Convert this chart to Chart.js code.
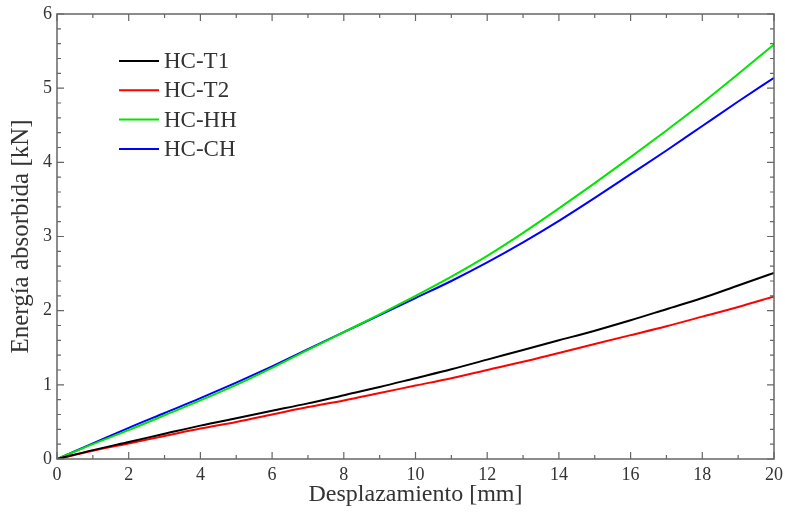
<!DOCTYPE html>
<html lang="es">
  <head>
    <meta charset="UTF-8" />
    <title>Energía absorbida</title>
    <script src="https://cdn.jsdelivr.net/npm/chart.js@4.4.1/dist/chart.umd.min.js"></script>
    <style>
      html, body {
        margin: 0;
        padding: 0;
        background: white;
      }
      .chart-container {
        width: 785px;
        height: 512px;
      }
    </style>
  </head>

  <body>
    <div class="chart-container">
      <canvas id="myChart" width="785" height="512"></canvas>
    </div>

    <script>
      // desplazamiento [mm]
      const desplazamiento = [0, 1, 2, 3, 4, 5, 6, 7, 8, 9, 10, 11, 12, 13, 14, 15, 16, 17, 18, 19, 20];

      // energia absorbida [kN]
      const hcT1 = [0, 0.12, 0.23, 0.34, 0.45, 0.55, 0.65, 0.75, 0.86, 0.97, 1.09, 1.21, 1.34, 1.47, 1.6, 1.73, 1.87, 2.02, 2.17, 2.34, 2.51];
      const hcT2 = [0, 0.11, 0.21, 0.31, 0.41, 0.5, 0.6, 0.7, 0.79, 0.89, 0.99, 1.09, 1.2, 1.31, 1.43, 1.55, 1.67, 1.79, 1.92, 2.05, 2.19];
      const hcHH = [0, 0.2, 0.39, 0.59, 0.79, 1.0, 1.23, 1.47, 1.71, 1.95, 2.2, 2.46, 2.74, 3.05, 3.38, 3.72, 4.07, 4.43, 4.8, 5.19, 5.59];
      const hcCH = [0, 0.21, 0.42, 0.62, 0.82, 1.03, 1.25, 1.48, 1.71, 1.94, 2.17, 2.4, 2.65, 2.92, 3.21, 3.52, 3.84, 4.16, 4.49, 4.82, 5.14];

      const xTicks = [0, 2, 4, 6, 8, 10, 12, 14, 16, 18, 20];
      const yTicks = [0, 1, 2, 3, 4, 5, 6];
      const xMinorStep = 1;
      const yMinorStep = 0.2;

      const serif = "'Liberation Serif', 'DejaVu Serif', serif";
      const textColor = "#333";

      function toPoints(ys) {
        return ys.map((y, i) => ({ x: desplazamiento[i], y: y }));
      }

      function line(label, ys, color) {
        return {
          label: label,
          data: toPoints(ys),
          borderColor: color,
          backgroundColor: color,
          borderWidth: 2,
          pointRadius: 0,
          cubicInterpolationMode: "monotone",
        };
      }

      // inward ticks on all four sides, box frame, legend inside the plot
      const framePlugin = {
        id: "frame",
        afterDatasetsDraw(chart) {
          const { ctx, chartArea: a, scales } = chart;
          const xs = scales.x;
          const ys = scales.y;
          ctx.save();
          ctx.strokeStyle = "#666";
          ctx.lineWidth = 1.5;
          ctx.strokeRect(a.left, a.top, a.right - a.left, a.bottom - a.top);

          ctx.lineWidth = 1.2;
          ctx.beginPath();
          for (let v = xs.min; v <= xs.max + 1e-9; v += xMinorStep) {
            const px = xs.getPixelForValue(v);
            const len = xTicks.includes(Math.round(v)) ? 7 : 4;
            ctx.moveTo(px, a.bottom);
            ctx.lineTo(px, a.bottom - len);
            ctx.moveTo(px, a.top);
            ctx.lineTo(px, a.top + len);
          }
          for (let k = 0; k * yMinorStep <= ys.max + 1e-9; k++) {
            const v = k * yMinorStep;
            const py = ys.getPixelForValue(v);
            const len = k % 5 === 0 ? 7 : 4;
            ctx.moveTo(a.left, py);
            ctx.lineTo(a.left + len, py);
            ctx.moveTo(a.right, py);
            ctx.lineTo(a.right - len, py);
          }
          ctx.stroke();

          // legend
          ctx.font = "23px " + serif;
          ctx.textBaseline = "middle";
          chart.data.datasets.forEach((ds, i) => {
            const y = 61 + i * 29.3;
            ctx.strokeStyle = ds.borderColor;
            ctx.lineWidth = 2;
            ctx.beginPath();
            ctx.moveTo(119, y);
            ctx.lineTo(159, y);
            ctx.stroke();
            ctx.fillStyle = textColor;
            ctx.fillText(ds.label, 164, y + 1);
          });
          ctx.restore();
        },
      };

      const ctx = document.getElementById("myChart").getContext("2d");
      const myChart = new Chart(ctx, {
        type: "line",
        data: {
          datasets: [
            line("HC-T1", hcT1, "#000000"),
            line("HC-T2", hcT2, "#ff0000"),
            line("HC-HH", hcHH, "#00e600"),
            line("HC-CH", hcCH, "#0000ff"),
          ],
        },
        options: {
          responsive: false,
          animation: false,
          layout: {
            padding: { top: 14, right: 11, left: 0, bottom: 0 },
          },
          scales: {
            x: {
              type: "linear",
              min: 0,
              max: 20,
              afterBuildTicks: (s) => {
                s.ticks = xTicks.map((v) => ({ value: v }));
              },
              afterFit: (s) => {
                s.height = 53;
                s.paddingLeft = 0;
                s.paddingRight = 0;
              },
              grid: { display: false, drawTicks: false },
              border: { display: false },
              ticks: {
                color: textColor,
                padding: 5,
                maxRotation: 0,
                autoSkip: false,
                font: { family: serif, size: 18 },
              },
              title: {
                display: true,
                text: "Desplazamiento [mm]",
                color: textColor,
                padding: { top: 0, bottom: 3 },
                font: { family: serif, size: 24 },
              },
            },
            y: {
              type: "linear",
              min: 0,
              max: 6,
              afterBuildTicks: (s) => {
                s.ticks = yTicks.map((v) => ({ value: v }));
              },
              afterFit: (s) => {
                s.width = 57;
                s.paddingTop = 0;
                s.paddingBottom = 0;
              },
              grid: { display: false, drawTicks: false },
              border: { display: false },
              ticks: {
                color: textColor,
                padding: 5,
                autoSkip: false,
                font: { family: serif, size: 18 },
              },
              title: {
                display: true,
                text: "Energía absorbida [kN]",
                color: textColor,
                padding: { top: 6, bottom: 0 },
                font: { family: serif, size: 25 },
              },
            },
          },
          plugins: {
            legend: { display: false },
            tooltip: { enabled: false },
          },
        },
        plugins: [framePlugin],
      });
    </script>
  </body>
</html>
